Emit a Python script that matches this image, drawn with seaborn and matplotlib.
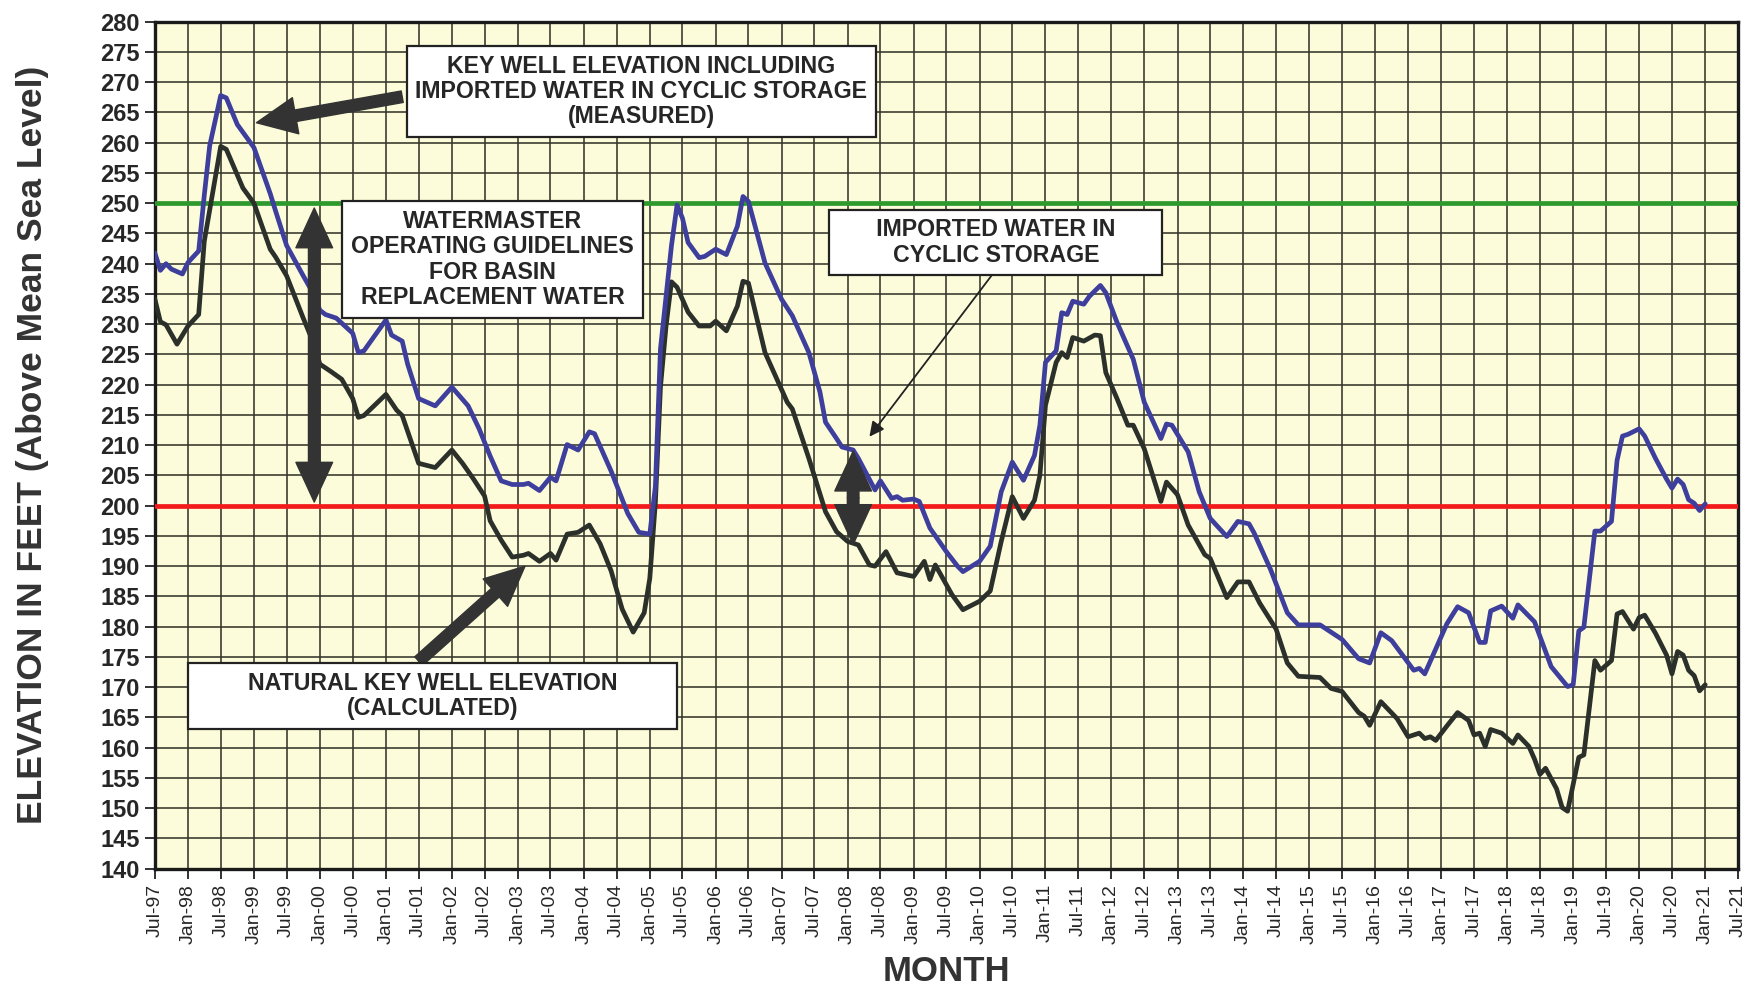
import pandas as pd
import numpy as np
import matplotlib
matplotlib.use("Agg")
import matplotlib.pyplot as plt
import matplotlib.dates as mdates
import seaborn as sns

# Key well elevation including imported water in cyclic storage (measured)
measured_months = [
    "1997-07", "1997-08", "1997-09", "1997-10", "1997-12", "1998-01", "1998-03", "1998-04",
    "1998-05", "1998-07", "1998-08", "1998-10", "1999-01", "1999-04", "1999-05", "1999-07",
    "1999-10", "1999-12", "2000-01", "2000-02", "2000-04", "2000-07", "2000-08", "2000-09",
    "2001-01", "2001-02", "2001-04", "2001-05", "2001-07", "2001-10", "2002-01", "2002-04",
    "2002-06", "2002-08", "2002-10", "2002-12", "2003-02", "2003-03", "2003-05", "2003-07",
    "2003-08", "2003-10", "2003-12", "2004-02", "2004-03", "2004-06", "2004-09", "2004-11",
    "2005-01", "2005-02", "2005-03", "2005-05", "2005-06", "2005-07", "2005-08", "2005-10",
    "2005-11", "2006-01", "2006-03", "2006-05", "2006-06", "2006-07", "2006-10", "2007-01",
    "2007-03", "2007-06", "2007-08", "2007-09", "2007-11", "2007-12", "2008-02", "2008-03",
    "2008-06", "2008-07", "2008-09", "2008-10", "2008-11", "2009-01", "2009-02", "2009-04",
    "2009-07", "2009-09", "2009-10", "2010-01", "2010-03", "2010-05", "2010-07", "2010-09",
    "2010-11", "2010-12", "2011-01", "2011-03", "2011-04", "2011-05", "2011-06", "2011-08",
    "2011-09", "2011-11", "2011-12", "2012-02", "2012-05", "2012-07", "2012-10", "2012-11",
    "2012-12", "2013-03", "2013-05", "2013-07", "2013-10", "2013-12", "2014-02", "2014-03",
    "2014-06", "2014-09", "2014-11", "2015-03", "2015-07", "2015-10", "2015-12", "2016-02",
    "2016-04", "2016-08", "2016-09", "2016-10", "2017-02", "2017-04", "2017-06", "2017-08",
    "2017-09", "2017-10", "2017-12", "2018-02", "2018-03", "2018-06", "2018-09", "2018-12",
    "2019-01", "2019-02", "2019-03", "2019-05", "2019-06", "2019-08", "2019-09", "2019-10",
    "2019-11", "2020-01", "2020-02", "2020-04", "2020-06", "2020-07", "2020-08", "2020-09",
    "2020-10", "2020-11", "2020-12", "2021-01",
]
measured_ft = [
    241.8, 238.9, 240.0, 239.1, 238.3, 240.2, 242.1, 251.3,
    259.5, 267.8, 267.4, 263.0, 259.2, 251.6, 248.7, 243.0,
    238.0, 234.8, 232.3, 231.6, 231.0, 228.5, 225.3, 225.6,
    230.7, 228.2, 227.2, 223.4, 217.7, 216.5, 219.6, 216.5,
    212.7, 208.2, 204.1, 203.5, 203.5, 203.7, 202.5, 204.7,
    204.1, 210.1, 209.2, 212.2, 211.9, 205.7, 198.7, 195.6,
    195.3, 203.2, 225.9, 243.0, 249.7, 247.5, 243.5, 241.0,
    241.2, 242.4, 241.5, 246.2, 251.1, 250.3, 240.1, 234.1,
    231.4, 225.3, 218.8, 213.8, 211.1, 209.7, 209.2, 207.8,
    202.6, 204.1, 201.2, 201.5, 200.9, 201.1, 200.7, 196.3,
    192.4, 190.0, 189.1, 190.8, 193.3, 202.3, 207.2, 204.2,
    208.3, 213.3, 223.7, 225.6, 231.9, 231.6, 233.8, 233.3,
    234.6, 236.4, 235.2, 230.3, 224.2, 217.1, 211.1, 213.5,
    213.3, 208.9, 202.3, 197.9, 194.9, 197.4, 197.0, 195.5,
    189.4, 182.3, 180.3, 180.3, 177.9, 174.7, 174.0, 179.0,
    177.7, 172.8, 173.1, 172.2, 180.5, 183.3, 182.3, 177.4,
    177.4, 182.6, 183.4, 181.4, 183.6, 180.8, 173.4, 170.1,
    170.4, 179.3, 179.9, 195.8, 195.8, 197.4, 207.5, 211.5,
    211.8, 212.7, 211.5, 207.8, 204.4, 202.9, 204.4, 203.5,
    201.0, 200.4, 199.2, 200.3,
]

# Natural key well elevation (calculated)
natural_months = [
    "1997-07", "1997-08", "1997-09", "1997-11", "1998-01", "1998-03", "1998-04", "1998-07",
    "1998-08", "1998-11", "1999-01", "1999-04", "1999-05", "1999-07", "1999-10", "1999-12",
    "2000-01", "2000-03", "2000-05", "2000-07", "2000-08", "2000-09", "2001-01", "2001-03",
    "2001-04", "2001-07", "2001-10", "2002-01", "2002-03", "2002-05", "2002-07", "2002-08",
    "2002-10", "2002-12", "2003-02", "2003-03", "2003-05", "2003-07", "2003-08", "2003-10",
    "2003-12", "2004-02", "2004-04", "2004-06", "2004-08", "2004-10", "2004-12", "2005-01",
    "2005-02", "2005-03", "2005-04", "2005-05", "2005-06", "2005-08", "2005-10", "2005-12",
    "2006-01", "2006-03", "2006-05", "2006-06", "2006-07", "2006-10", "2007-02", "2007-03",
    "2007-06", "2007-09", "2007-11", "2008-01", "2008-03", "2008-05", "2008-06", "2008-08",
    "2008-10", "2009-01", "2009-03", "2009-04", "2009-05", "2009-08", "2009-10", "2010-01",
    "2010-03", "2010-05", "2010-07", "2010-09", "2010-11", "2010-12", "2011-01", "2011-03",
    "2011-04", "2011-05", "2011-06", "2011-08", "2011-10", "2011-11", "2011-12", "2012-02",
    "2012-04", "2012-05", "2012-07", "2012-10", "2012-11", "2013-01", "2013-03", "2013-06",
    "2013-07", "2013-10", "2013-12", "2014-02", "2014-04", "2014-07", "2014-09", "2014-11",
    "2015-03", "2015-05", "2015-07", "2015-10", "2015-11", "2015-12", "2016-02", "2016-05",
    "2016-07", "2016-09", "2016-10", "2016-11", "2016-12", "2017-02", "2017-04", "2017-06",
    "2017-07", "2017-08", "2017-09", "2017-10", "2017-12", "2018-02", "2018-03", "2018-05",
    "2018-06", "2018-07", "2018-08", "2018-10", "2018-11", "2018-12", "2019-02", "2019-03",
    "2019-05", "2019-06", "2019-08", "2019-09", "2019-10", "2019-12", "2020-01", "2020-02",
    "2020-04", "2020-06", "2020-07", "2020-08", "2020-09", "2020-10", "2020-11", "2020-12",
    "2021-01",
]
natural_ft = [
    234.2, 230.4, 229.9, 226.7, 229.7, 231.6, 243.7, 259.4,
    258.9, 252.5, 250.0, 242.4, 241.1, 238.0, 231.0, 226.6,
    223.4, 222.2, 220.9, 217.7, 214.6, 214.9, 218.4, 215.8,
    214.9, 207.0, 206.3, 209.2, 207.0, 204.4, 201.6, 197.5,
    194.3, 191.5, 191.8, 192.1, 190.8, 192.1, 191.0, 195.3,
    195.6, 196.8, 193.7, 189.2, 182.9, 179.1, 182.3, 188.0,
    200.6, 219.6, 229.7, 237.0, 236.1, 232.0, 229.7, 229.7,
    230.5, 228.9, 233.0, 237.1, 236.8, 225.3, 217.1, 216.0,
    207.8, 199.0, 195.7, 194.1, 193.5, 190.2, 190.0, 192.4,
    188.9, 188.3, 190.8, 187.8, 190.2, 185.3, 182.8, 184.2,
    185.9, 194.1, 201.5, 197.9, 200.9, 205.0, 216.6, 223.7,
    225.3, 224.5, 227.8, 227.2, 228.2, 228.1, 222.0, 217.7,
    213.3, 213.3, 209.4, 200.7, 203.9, 201.8, 196.8, 191.9,
    191.3, 184.8, 187.4, 187.4, 183.9, 179.6, 174.0, 171.8,
    171.6, 169.8, 169.3, 165.8, 165.2, 163.7, 167.6, 164.8,
    161.8, 162.4, 161.5, 161.8, 161.2, 163.6, 165.8, 164.5,
    162.1, 162.4, 160.2, 163.0, 162.4, 160.7, 162.1, 160.2,
    158.1, 155.6, 156.6, 153.2, 150.1, 149.5, 158.4, 158.8,
    174.4, 172.8, 174.4, 182.1, 182.5, 179.6, 181.5, 181.9,
    178.9, 175.3, 172.2, 175.9, 175.3, 172.8, 171.9, 169.4,
    170.4,
]

guideline_upper = 250
guideline_lower = 200

measured = pd.DataFrame({"month": pd.to_datetime(measured_months), "elevation": measured_ft})
natural = pd.DataFrame({"month": pd.to_datetime(natural_months), "elevation": natural_ft})

sns.set_style("ticks")
plt.rcParams["font.family"] = ["Liberation Sans", "DejaVu Sans"]

fig = plt.figure(figsize=(17.59, 9.86), dpi=100)
ax = fig.add_axes([0.088, 0.119, 0.9, 0.859])
ax.set_facecolor("#FDFCDA")

x_start = pd.Timestamp("1997-07-01")
x_end = pd.Timestamp("2021-07-01")
month_ticks = pd.date_range(x_start, x_end, freq="6MS")

ax.set_xlim(x_start, x_end)
ax.set_ylim(140, 280)
ax.set_xticks(month_ticks)
ax.set_xticklabels([d.strftime("%b-%y") for d in month_ticks], rotation=90, fontsize=14)
ax.set_yticks(np.arange(140, 281, 5))
ax.set_yticklabels([str(v) for v in range(140, 281, 5)], fontsize=17, fontweight="bold")
ax.grid(True, color="#35352b", linewidth=1.15)
ax.set_axisbelow(True)
ax.tick_params(axis="both", length=7, width=1.3, color="#222222", pad=4)

for side in ax.spines.values():
    side.set_linewidth(2.4)
    side.set_color("#1a1a1a")

ax.axhline(guideline_upper, color="#2E9A2E", linewidth=3.4, zorder=3)
ax.axhline(guideline_lower, color="#F21A1A", linewidth=3.4, zorder=3)

sns.lineplot(data=natural, x="month", y="elevation", ax=ax, color="#2B302B", linewidth=3.4, zorder=4)
sns.lineplot(data=measured, x="month", y="elevation", ax=ax, color="#3E3F9C", linewidth=3.4, zorder=5)

ax.set_xlabel("MONTH", fontsize=25, fontweight="bold", color="#333333", labelpad=8)
ax.set_ylabel("ELEVATION IN FEET (Above Mean Sea Level)", fontsize=25.5, fontweight="bold",
              color="#333333", labelpad=37)


def d(s):
    return mdates.date2num(pd.Timestamp(s))


box = dict(boxstyle="square,pad=0.38", fc="white", ec="#222222", lw=1.6)
arrow_fat = dict(arrowstyle="simple,head_length=1.3,head_width=1.2,tail_width=0.38",
                 fc="#333333", ec="#333333", mutation_scale=22, shrinkA=0, shrinkB=0)
text_style = dict(fontsize=16.7, fontweight="bold", ha="center", va="center", color="#262626",
                  linespacing=1.12, zorder=8, bbox=box)

ax.text(d("2004-11-15"), 268.5, "KEY WELL ELEVATION INCLUDING\nIMPORTED WATER IN CYCLIC STORAGE\n(MEASURED)",
        **text_style)
ax.annotate("", xy=(d("1999-01-15"), 263.3), xytext=(d("2001-04-01"), 267.6), arrowprops=arrow_fat, zorder=7)

ax.text(d("2002-08-15"), 240.7, "WATERMASTER\nOPERATING GUIDELINES\nFOR BASIN\nREPLACEMENT WATER",
        **text_style)
ax.annotate("", xy=(d("1999-12-01"), 249.2), xytext=(d("1999-12-01"), 225), arrowprops=arrow_fat, zorder=7)
ax.annotate("", xy=(d("1999-12-01"), 200.6), xytext=(d("1999-12-01"), 225), arrowprops=arrow_fat, zorder=7)

# the two lower boxes are wider than their text in the original
ax.text(d("2010-04-01"), 243.5, "      IMPORTED WATER IN      \nCYCLIC STORAGE", **text_style)
ax.annotate("", xy=(d("2008-05-01"), 211.4), xytext=(d("2010-03-15"), 238.3),
            arrowprops=dict(arrowstyle="-|>", color="#222222", lw=1.3, mutation_scale=22,
                            shrinkA=0, shrinkB=0), zorder=7)
ax.annotate("", xy=(d("2008-02-01"), 209.0), xytext=(d("2008-02-01"), 201.3), arrowprops=arrow_fat, zorder=7)
ax.annotate("", xy=(d("2008-02-01"), 193.6), xytext=(d("2008-02-01"), 201.3), arrowprops=arrow_fat, zorder=7)

ax.text(d("2001-09-15"), 168.5, "        NATURAL KEY WELL ELEVATION        \n(CALCULATED)", **text_style)
ax.annotate("", xy=(d("2003-02-10"), 190.0), xytext=(d("2001-07-01"), 174.3), arrowprops=arrow_fat, zorder=7)

fig.savefig("out.png", dpi=100, facecolor="white")
